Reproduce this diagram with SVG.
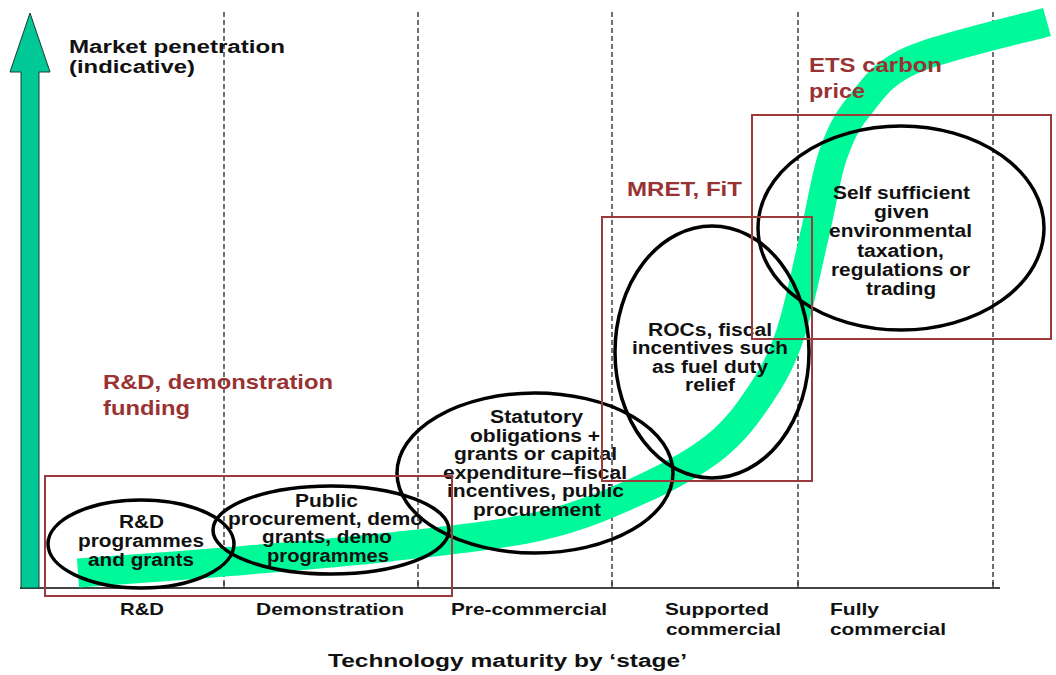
<svg xmlns="http://www.w3.org/2000/svg" width="1056" height="675" viewBox="0 0 1056 675">
  <style>
    text { font-family: "Liberation Sans", Arial, sans-serif; font-weight: bold; fill: #111; }
    .lbl { font-size: 18px; }
    .axl { font-size: 17px; }
    .red { font-size: 21px; fill: #993333; }
    .ell { fill: none; stroke: #000; stroke-width: 3.5; }
    .box { fill: none; stroke: #9c3b3b; stroke-width: 2; }
    .grid { stroke: #333; stroke-width: 1.4; stroke-dasharray: 5 3; }
  </style>

  <rect width="1056" height="675" fill="#fff"/>

  <!-- stage dividers and horizontal axis -->
  <g id="axes">
    <line class="grid" x1="224" y1="12" x2="224" y2="588"/>
    <line class="grid" x1="418" y1="12" x2="418" y2="588"/>
    <line class="grid" x1="612" y1="12" x2="612" y2="588"/>
    <line class="grid" x1="798" y1="12" x2="798" y2="588"/>
    <line class="grid" x1="993" y1="12" x2="993" y2="588"/>
    <line x1="20" y1="588" x2="1000" y2="588" stroke="#444" stroke-width="2"/>
    <path d="M224,582V588M418,582V588M612,582V588M798,582V588M993,582V588" stroke="#333" stroke-width="1.4"/>
  </g>

  <!-- vertical market penetration arrow -->
  <g id="y-arrow">
    <path d="M21,588 V72 H10 L30,13 L50,72 H39 V588 Z" fill="#00c896" stroke="#1a3a30" stroke-width="1"/>
    <text class="lbl" x="69" y="53" textLength="216" lengthAdjust="spacingAndGlyphs">Market penetration</text>
    <text class="lbl" x="69" y="73" textLength="126" lengthAdjust="spacingAndGlyphs">(indicative)</text>
  </g>

  <!-- S-curve of market penetration -->
  <g id="connectors">
    <path id="s-curve" fill="none" stroke="#00fa9a" stroke-width="29" stroke-linecap="butt"
      d="M78,573 C102.3,571.2 172,566.3 224,562 C276,557.7 337.3,553 390,547 C442.7,541 498.3,535.5 540,526 C581.7,516.5 610.8,503.2 640,490 C669.2,476.8 695,462.8 715,447 C735,431.2 747.5,413.7 760,395 C772.5,376.3 780.8,362 790,335 C799.2,308 807.8,263 815,233 C822.2,203 825.5,176.3 833,155 C840.5,133.7 846.8,120.8 860,105 C873.2,89.2 880.8,73.8 912,60 C943.2,46.2 1024.5,28.3 1047,22"/>
  </g>

  <!-- policy instrument ellipses -->
  <g id="node-rd">
    <ellipse class="ell" cx="141" cy="544" rx="93" ry="44"/>
    <text class="lbl" x="119" y="528" textLength="45" lengthAdjust="spacingAndGlyphs">R&amp;D</text>
    <text class="lbl" x="78" y="547" textLength="126" lengthAdjust="spacingAndGlyphs">programmes</text>
    <text class="lbl" x="88" y="566" textLength="106" lengthAdjust="spacingAndGlyphs">and grants</text>
  </g>

  <g id="node-public">
    <ellipse class="ell" cx="331" cy="530" rx="118" ry="44"/>
    <text class="lbl" x="295" y="507" textLength="63" lengthAdjust="spacingAndGlyphs">Public</text>
    <text class="lbl" x="228" y="525" textLength="195" lengthAdjust="spacingAndGlyphs">procurement, demo</text>
    <text class="lbl" x="262" y="543" textLength="130" lengthAdjust="spacingAndGlyphs">grants, demo</text>
    <text class="lbl" x="267" y="562" textLength="122" lengthAdjust="spacingAndGlyphs">programmes</text>
  </g>

  <g id="node-statutory">
    <ellipse class="ell" cx="535" cy="473" rx="138" ry="80"/>
    <text class="lbl" x="490" y="423" textLength="93" lengthAdjust="spacingAndGlyphs">Statutory</text>
    <text class="lbl" x="470" y="442" textLength="130" lengthAdjust="spacingAndGlyphs">obligations +</text>
    <text class="lbl" x="454" y="460" textLength="163" lengthAdjust="spacingAndGlyphs">grants or capital</text>
    <text class="lbl" x="443" y="479" textLength="184" lengthAdjust="spacingAndGlyphs">expenditure–fiscal</text>
    <text class="lbl" x="447" y="497" textLength="177" lengthAdjust="spacingAndGlyphs">incentives, public</text>
    <text class="lbl" x="473" y="516" textLength="128" lengthAdjust="spacingAndGlyphs">procurement</text>
  </g>

  <g id="node-rocs">
    <ellipse class="ell" cx="712" cy="352" rx="97" ry="126"/>
    <text class="lbl" x="648" y="336" textLength="124" lengthAdjust="spacingAndGlyphs">ROCs, fiscal</text>
    <text class="lbl" x="632" y="354" textLength="156" lengthAdjust="spacingAndGlyphs">incentives such</text>
    <text class="lbl" x="652" y="373" textLength="116" lengthAdjust="spacingAndGlyphs">as fuel duty</text>
    <text class="lbl" x="685" y="391" textLength="50" lengthAdjust="spacingAndGlyphs">relief</text>
  </g>

  <g id="node-self">
    <ellipse class="ell" cx="901" cy="228" rx="143" ry="102"/>
    <text class="lbl" x="833" y="199" textLength="137" lengthAdjust="spacingAndGlyphs">Self sufficient</text>
    <text class="lbl" x="874" y="218" textLength="55" lengthAdjust="spacingAndGlyphs">given</text>
    <text class="lbl" x="829" y="237" textLength="143" lengthAdjust="spacingAndGlyphs">environmental</text>
    <text class="lbl" x="857" y="257" textLength="87" lengthAdjust="spacingAndGlyphs">taxation,</text>
    <text class="lbl" x="831" y="276" textLength="139" lengthAdjust="spacingAndGlyphs">regulations or</text>
    <text class="lbl" x="866" y="295" textLength="70" lengthAdjust="spacingAndGlyphs">trading</text>
  </g>

  <!-- funding mechanism boxes -->
  <g id="box-rd-funding">
    <rect class="box" x="45" y="476" width="407" height="120"/>
    <text class="red" x="103" y="389" textLength="230" lengthAdjust="spacingAndGlyphs">R&amp;D, demonstration</text>
    <text class="red" x="103" y="415" textLength="87" lengthAdjust="spacingAndGlyphs">funding</text>
  </g>

  <g id="box-mret">
    <rect class="box" x="602" y="217" width="210" height="264"/>
    <text class="red" x="627" y="196" textLength="115" lengthAdjust="spacingAndGlyphs">MRET, FiT</text>
  </g>

  <g id="box-ets">
    <rect class="box" x="752" y="115" width="299" height="224"/>
    <text class="red" x="809" y="72" textLength="133" lengthAdjust="spacingAndGlyphs">ETS carbon</text>
    <text class="red" x="809" y="98" textLength="56" lengthAdjust="spacingAndGlyphs">price</text>
  </g>

  <!-- stage labels -->
  <g id="stage-labels">
    <text class="axl" x="120" y="615" textLength="44" lengthAdjust="spacingAndGlyphs">R&amp;D</text>
    <text class="axl" x="256" y="615" textLength="148" lengthAdjust="spacingAndGlyphs">Demonstration</text>
    <text class="axl" x="451" y="615" textLength="156" lengthAdjust="spacingAndGlyphs">Pre-commercial</text>
    <text class="axl" x="665" y="615" textLength="104" lengthAdjust="spacingAndGlyphs">Supported</text>
    <text class="axl" x="666" y="635" textLength="115" lengthAdjust="spacingAndGlyphs">commercial</text>
    <text class="axl" x="830" y="615" textLength="49" lengthAdjust="spacingAndGlyphs">Fully</text>
    <text class="axl" x="830" y="635" textLength="116" lengthAdjust="spacingAndGlyphs">commercial</text>
    <text class="lbl" x="328" y="667" textLength="359" lengthAdjust="spacingAndGlyphs">Technology maturity by ‘stage’</text>
  </g>
</svg>
